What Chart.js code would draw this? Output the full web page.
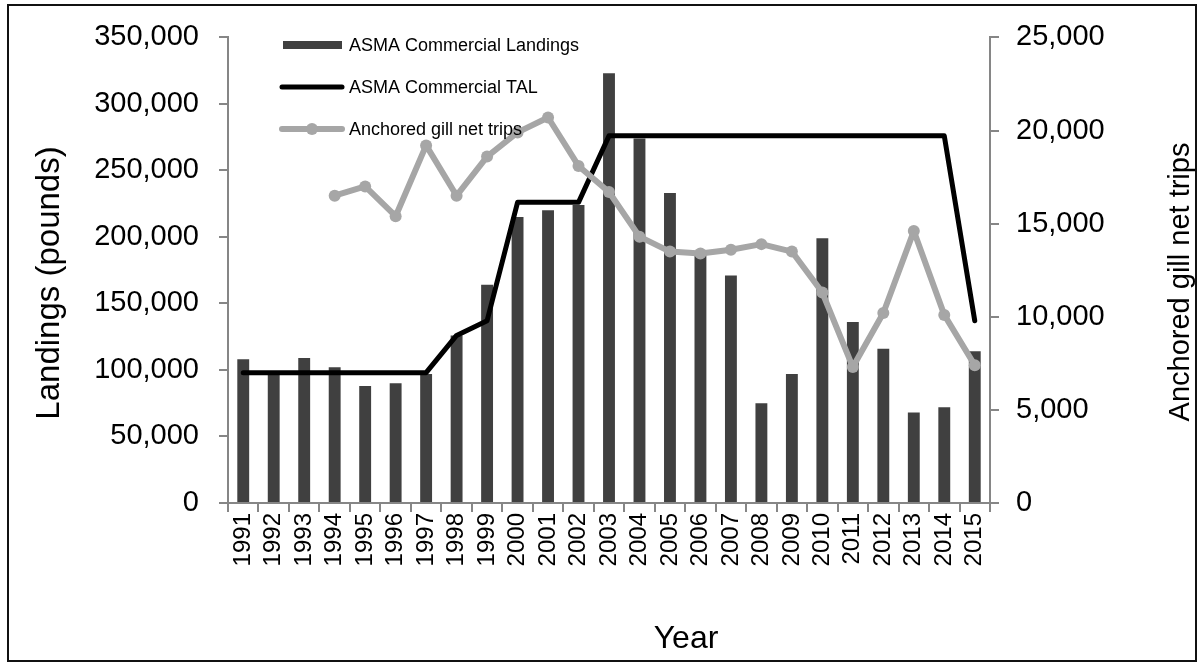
<!DOCTYPE html>
<html>
<head>
<meta charset="utf-8">
<script src="https://cdn.jsdelivr.net/npm/chart.js@4"></script>
<style>
  html, body { margin: 0; padding: 0; background: #fff; }
  #wrap { width: 1201px; height: 665px; position: relative; }
</style>
</head>
<body>
<div id="wrap"><canvas id="c"></canvas></div>
<script>
const years = ['1991','1992','1993','1994','1995','1996','1997','1998','1999','2000','2001','2002','2003','2004','2005','2006','2007','2008','2009','2010','2011','2012','2013','2014','2015'];
const landings = [108000, 97000, 109000, 102000, 88000, 90000, 97000, 126000, 164000, 215000, 220000, 224000, 323000, 274000, 233000, 189000, 171000, 75000, 97000, 199000, 136000, 116000, 68000, 72000, 114000];
const tal = [98000, 98000, 98000, 98000, 98000, 98000, 98000, 126000, 137000, 226000, 226000, 226000, 276000, 276000, 276000, 276000, 276000, 276000, 276000, 276000, 276000, 276000, 276000, 276000, 137000];
const gillTrips = [null, null, null, 16500, 17000, 15400, 19200, 16500, 18600, 19900, 20700, 18100, 16700, 14300, 13500, 13400, 13600, 13900, 13500, 11300, 7300, 10200, 14600, 10100, 7400];
const seriesNames = ['ASMA Commercial Landings', 'ASMA Commercial TAL', 'Anchored gill net trips'];
const leftMax = 350000, leftStep = 50000;
const rightMax = 25000, rightStep = 5000;
const axisTitles = { x: 'Year', left: 'Landings (pounds)', right: 'Anchored gill net trips' };

const FONT = "'Liberation Sans', Arial, sans-serif";
const AXIS_GRAY = '#868686';

const customDraw = {
  id: 'customDraw',
  beforeDraw(chart) {
    const ctx = chart.ctx;
    ctx.save();
    ctx.fillStyle = '#fff';
    ctx.fillRect(0, 0, chart.width, chart.height);
    ctx.restore();
  },
  afterDraw(chart) {
    const ctx = chart.ctx;
    const ds = chart.data.datasets;
    ctx.save();
    // legend
    ctx.font = '18px ' + FONT;
    ctx.textBaseline = 'middle';
    ctx.textAlign = 'left';
    const lx0 = 282, lx1 = 342, tx = 349;
    const rows = [45, 87, 129];
    ctx.fillStyle = ds[0].backgroundColor;
    ctx.fillRect(lx0 + 1, rows[0] - 4, lx1 - lx0 - 1, 8);
    ctx.strokeStyle = ds[1].borderColor;
    ctx.lineWidth = ds[1].borderWidth;
    ctx.lineCap = 'round';
    ctx.beginPath(); ctx.moveTo(lx0, rows[1]); ctx.lineTo(lx1, rows[1]); ctx.stroke();
    ctx.strokeStyle = ds[2].borderColor;
    ctx.lineWidth = ds[2].borderWidth;
    ctx.beginPath(); ctx.moveTo(lx0, rows[2]); ctx.lineTo(lx1, rows[2]); ctx.stroke();
    ctx.fillStyle = ds[2].pointBackgroundColor;
    ctx.beginPath(); ctx.arc((lx0 + lx1) / 2, rows[2], ds[2].pointRadius, 0, Math.PI * 2); ctx.fill();
    ctx.fillStyle = '#000';
    for (let i = 0; i < 3; i++) ctx.fillText(ds[i].label, tx, rows[i] + 1);
    ctx.restore();

    // axis titles
    ctx.save();
    ctx.fillStyle = '#000';
    ctx.textAlign = 'center';
    ctx.textBaseline = 'middle';
    ctx.font = '32px ' + FONT;
    ctx.fillText(axisTitles.x, 686, 639);
    ctx.save();
    ctx.font = '33px ' + FONT;
    ctx.translate(50, 283);
    ctx.rotate(-Math.PI / 2);
    ctx.fillText(axisTitles.left, 0, 0);
    ctx.restore();
    ctx.save();
    ctx.font = '29px ' + FONT;
    ctx.translate(1181, 282);
    ctx.rotate(-Math.PI / 2);
    ctx.fillText(axisTitles.right, 0, 0);
    ctx.restore();
    ctx.restore();

    // frame
    ctx.save();
    ctx.strokeStyle = '#111';
    ctx.lineWidth = 2;
    ctx.strokeRect(8, 5, 1188, 656);
    ctx.restore();
  }
};

const fmt = v => Number(v).toLocaleString('en-US');

new Chart(document.getElementById('c'), {
  data: {
    labels: years,
    datasets: [
      {
        type: 'bar', label: seriesNames[0], data: landings, yAxisID: 'y',
        backgroundColor: '#404040', barPercentage: 0.39, categoryPercentage: 1.0, order: 3
      },
      {
        type: 'line', label: seriesNames[1], data: tal, yAxisID: 'y',
        borderColor: '#000000', backgroundColor: '#000000', borderWidth: 5,
        pointRadius: 0, tension: 0, order: 2, borderJoinStyle: 'round', borderCapStyle: 'round'
      },
      {
        type: 'line', label: seriesNames[2], data: gillTrips, yAxisID: 'y1',
        borderColor: '#a6a6a6', backgroundColor: '#a6a6a6', borderWidth: 6,
        pointRadius: 6, pointBackgroundColor: '#a6a6a6', pointBorderWidth: 0,
        pointBorderColor: '#a6a6a6', tension: 0, order: 1, spanGaps: false,
        borderJoinStyle: 'round'
      }
    ]
  },
  options: {
    responsive: true,
    maintainAspectRatio: false,
    animation: false,
    devicePixelRatio: 1,
    layout: { padding: { top: 37, left: 0, right: 0, bottom: 0 } },
    plugins: { legend: { display: false }, tooltip: { enabled: false } },
    scales: {
      x: {
        type: 'category',
        offset: true,
        grid: { offset: true, drawOnChartArea: false, drawTicks: true, tickLength: 9, color: AXIS_GRAY, lineWidth: 2 },
        border: { display: true, color: AXIS_GRAY, width: 2 },
        ticks: { color: '#000', font: { family: FONT, size: 24 }, maxRotation: 90, minRotation: 90, padding: 1, autoSkip: false },
        title: { display: false, text: axisTitles.x },
        afterFit(scale) { scale.height = 162; }
      },
      y: {
        position: 'left',
        min: 0, max: leftMax,
        grid: { drawOnChartArea: false, drawTicks: true, tickLength: 9, color: AXIS_GRAY, lineWidth: 2 },
        border: { display: true, color: AXIS_GRAY, width: 2 },
        ticks: { stepSize: leftStep, color: '#000', font: { family: FONT, size: 29 }, padding: 20, callback: fmt },
        title: { display: false, text: axisTitles.left },
        afterFit(scale) { scale.width = 228; }
      },
      y1: {
        position: 'right',
        min: 0, max: rightMax,
        grid: { drawOnChartArea: false, drawTicks: true, tickLength: 9, color: AXIS_GRAY, lineWidth: 2 },
        border: { display: true, color: AXIS_GRAY, width: 2 },
        ticks: { stepSize: rightStep, color: '#000', font: { family: FONT, size: 29 }, padding: 17, callback: fmt },
        title: { display: false, text: axisTitles.right },
        afterFit(scale) { scale.width = 211; }
      }
    }
  },
  plugins: [customDraw]
});
</script>
</body>
</html>
